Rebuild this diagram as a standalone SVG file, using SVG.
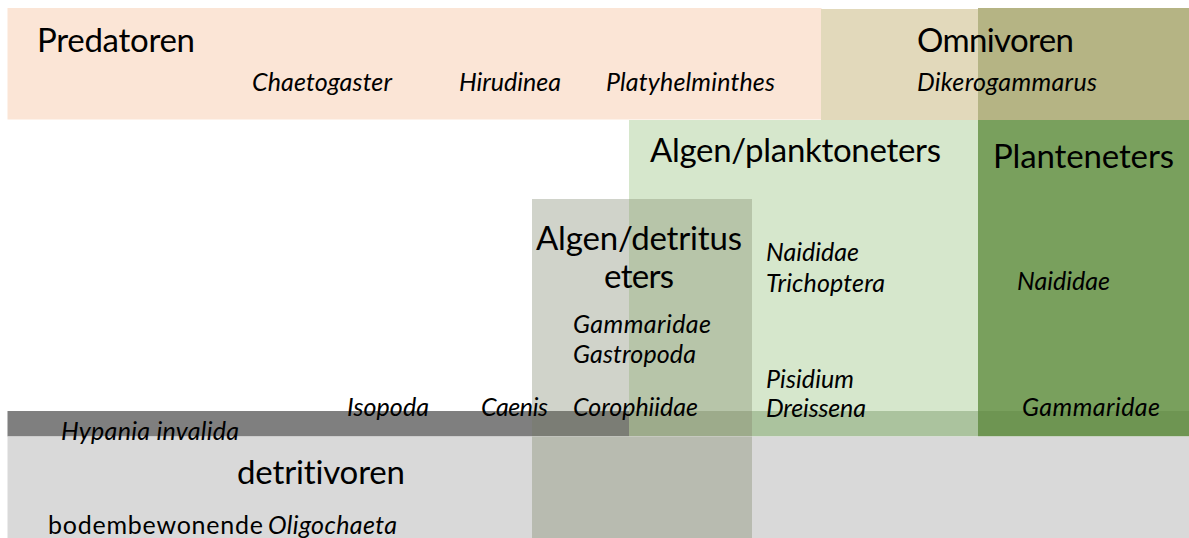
<svg xmlns="http://www.w3.org/2000/svg" width="1189" height="538" viewBox="0 0 1189 538">
<style>
text{font-family:Lato,"Liberation Sans",sans-serif;fill:#000;font-variant-ligatures:none;font-feature-settings:"liga" 0,"dlig" 0}
.big{font-size:33px}
.sp{font-size:25px;font-style:italic}
.reg{font-size:25px}
</style>
<rect width="1189" height="538" fill="#fff"/>
<g id="predatoren">
<rect x="7.5" y="8" width="814" height="111.5" fill="#fbe5d6"/>
</g>
<g id="omnivoren">
<rect x="821" y="9" width="157" height="111" fill="#e2d9bb"/>
<rect x="978" y="8" width="211" height="112" fill="#b5b484"/>
</g>
<g id="algen-planktoneters">
<rect x="629" y="120" width="349" height="291" fill="#d6e7cc"/>
</g>
<g id="planteneters">
<rect x="978" y="120" width="211" height="291" fill="#79a05d"/>
</g>
<g id="algen-detritus">
<rect x="532" y="199" width="97" height="212" fill="#d0d3ca"/>
<rect x="629" y="199" width="123" height="212" fill="#b7c5a9"/>
</g>
<g id="detritivoren">
<rect x="7.5" y="411" width="524.5" height="25.5" fill="#7f7f7f"/>
<rect x="532" y="411" width="97" height="25.5" fill="#7b7d75"/>
<rect x="629" y="411" width="123" height="25.5" fill="#9dab8b"/>
<rect x="752" y="411" width="226" height="25.5" fill="#abc39e"/>
<rect x="978" y="411" width="211" height="25.5" fill="#6e9552"/>
<rect x="7.5" y="436.5" width="1181.5" height="101.5" fill="#d9d9d9"/>
<rect x="532" y="436.5" width="220" height="101.5" fill="#b8bbb0"/>
</g>
<g id="labels">
<g id="predatoren-labels">
<text class="big" x="37" y="52" textLength="158">Predatoren</text>
<text class="sp" x="252" y="91" textLength="140">Chaetogaster</text>
<text class="sp" x="459" y="91" textLength="102">Hirudinea</text>
<text class="sp" x="606" y="91" textLength="169">Platyhelminthes</text>
</g>
<g id="omnivoren-labels">
<text class="big" x="917" y="52" textLength="157">Omnivoren</text>
<text class="sp" x="917" y="91" textLength="180">Dikerogammarus</text>
</g>
<g id="algen-planktoneters-labels">
<text class="big" x="650" y="162" textLength="291">Algen/planktoneters</text>
<text class="sp" x="766" y="261" textLength="93">Naididae</text>
<text class="sp" x="766" y="292" textLength="119">Trichoptera</text>
<text class="sp" x="766" y="388" textLength="88">Pisidium</text>
<text class="sp" x="766" y="417" textLength="100">Dreissena</text>
</g>
<g id="planteneters-labels">
<text class="big" x="993" y="168" textLength="181">Planteneters</text>
<text class="sp" x="1017" y="290" textLength="93">Naididae</text>
<text class="sp" x="1022" y="416" textLength="138">Gammaridae</text>
</g>
<g id="algen-detritus-labels">
<text class="big" x="536" y="250" textLength="206">Algen/detritus</text>
<text class="big" x="604" y="288" textLength="70">eters</text>
<text class="sp" x="573" y="333" textLength="138">Gammaridae</text>
<text class="sp" x="573" y="363" textLength="123">Gastropoda</text>
<text class="sp" x="573" y="416" textLength="125">Corophiidae</text>
</g>
<g id="detritivoren-labels">
<text class="sp" x="347" y="416" textLength="82">Isopoda</text>
<text class="sp" x="481" y="416" textLength="67">Caenis</text>
<text class="sp" x="61" y="440" textLength="178">Hypania invalida</text>
<text class="big" x="237" y="484" textLength="168">detritivoren</text>
<text class="reg" x="48" y="534" textLength="215">bodembewonende</text>
<text class="sp" x="268" y="534" textLength="129">Oligochaeta</text>
</g>
</g>
</svg>
